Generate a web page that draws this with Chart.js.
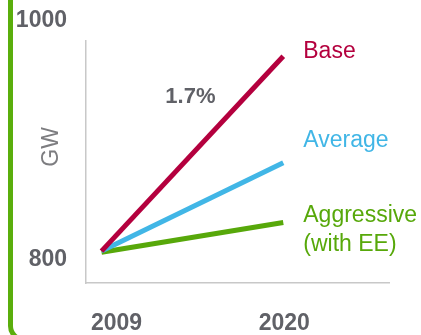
<!DOCTYPE html>
<html><head><meta charset="utf-8">
<script src="https://cdn.jsdelivr.net/npm/chart.js@4.4.0/dist/chart.umd.min.js"></script>
<style>
html,body{margin:0;padding:0;background:#fff;overflow:hidden}
#wrap{position:relative;width:421px;height:335px;overflow:hidden;background:#fff}
#frame{position:absolute;left:8px;top:-40px;width:600px;height:382px;border:5px solid #5aae0c;border-radius:16px;box-sizing:border-box}
canvas{position:absolute;left:0;top:0}
</style></head><body>
<div id="wrap"><div id="frame"></div><canvas id="c" width="421" height="335"></canvas></div>
<script>
// ---- data ----
const years = [2009, 2020];
const base = [807, 970];
const average = [807, 881];
const aggressive = [806, 831];
const yTicks = [800, 1000];
const xTicks = [2009, 2020];
const seriesNames = ['Base', 'Average', ['Aggressive', '(with EE)']];
const growthLabel = '1.7%';
const yTitle = 'GW';

const colors = ['#b4003e', '#41b6e6', '#57a80a'];
const textGray = '#606167';
const FONT = '"Liberation Sans", Arial, sans-serif';

const toPts = arr => arr.map((v, i) => ({x: years[i], y: v}));

const labelPlugin = {
  id: 'labels',
  afterDraw(chart) {
    const ctx = chart.ctx;
    const xs = chart.scales.x, ys = chart.scales.y;
    ctx.save();
    // x tick labels
    ctx.font = 'bold 23px ' + FONT;
    ctx.fillStyle = textGray;
    ctx.textAlign = 'center';
    ctx.textBaseline = 'alphabetic';
    const nudge = [15, 1];
    xTicks.forEach((t, i) => {
      ctx.fillText(String(t), xs.getPixelForValue(t) + nudge[i], chart.chartArea.bottom + 47);
    });
    // series labels at line ends
    ctx.font = '23px ' + FONT;
    ctx.textAlign = 'left';
    const series = [base, average, aggressive];
    const dy = [2, -15.5, 0];
    series.forEach((s, i) => {
      const px = xs.getPixelForValue(years[years.length - 1]) + 20;
      const py = ys.getPixelForValue(s[s.length - 1]) + dy[i];
      ctx.fillStyle = colors[i];
      const lines = Array.isArray(seriesNames[i]) ? seriesNames[i] : [seriesNames[i]];
      lines.forEach((l, j) => ctx.fillText(l, px, py + j * 28.5));
    });
    // growth label
    ctx.font = 'bold 22px ' + FONT;
    ctx.fillStyle = textGray;
    ctx.textAlign = 'center';
    const mx = (xs.getPixelForValue(years[0]) + xs.getPixelForValue(years[1])) / 2;
    const my = (ys.getPixelForValue(base[0]) + ys.getPixelForValue(base[1])) / 2;
    ctx.fillText(growthLabel, mx - 2, my - 51);
    // y title
    ctx.font = '23px ' + FONT;
    ctx.fillStyle = '#7d7d80';
    ctx.translate(58, (ys.getPixelForValue(900) + 7));
    ctx.rotate(-Math.PI / 2);
    ctx.textAlign = 'center';
    ctx.textBaseline = 'alphabetic';
    ctx.fillText(yTitle, 0, 0);
    ctx.restore();
  }
};

new Chart(document.getElementById('c'), {
  type: 'line',
  data: {
    datasets: [
      {label: 'Base', data: toPts(base), borderColor: colors[0]},
      {label: 'Average', data: toPts(average), borderColor: colors[1]},
      {label: 'Aggressive (with EE)', data: toPts(aggressive), borderColor: colors[2]}
    ].map(d => Object.assign(d, {borderWidth: 5, pointRadius: 0, tension: 0, fill: false, borderCapStyle: 'butt'}))
  },
  options: {
    responsive: false,
    animation: false,
    devicePixelRatio: 1,
    layout: {padding: {left: 0, right: 32, top: 41, bottom: 0}},
    plugins: {legend: {display: false}, tooltip: {enabled: false}},
    scales: {
      x: {
        type: 'linear', min: 2008.06, max: 2026.4,
        grid: {display: false, drawTicks: false},
        border: {display: true, color: '#c8c8c8', width: 1.5},
        ticks: {display: false},
        afterFit: s => { s.height = 52; }
      },
      y: {
        type: 'linear', min: 780.3, max: 982.8,
        grid: {display: false, drawTicks: false},
        border: {display: true, color: '#c8c8c8', width: 1.5},
        afterBuildTicks: s => { s.ticks = yTicks.map(v => ({value: v})); },
        ticks: {padding: 19, color: textGray, font: {family: FONT, size: 23, weight: 'bold'}, callback: v => String(v)},
        afterFit: s => { s.width = 86; }
      }
    }
  },
  plugins: [labelPlugin]
});
</script>
</body></html>
